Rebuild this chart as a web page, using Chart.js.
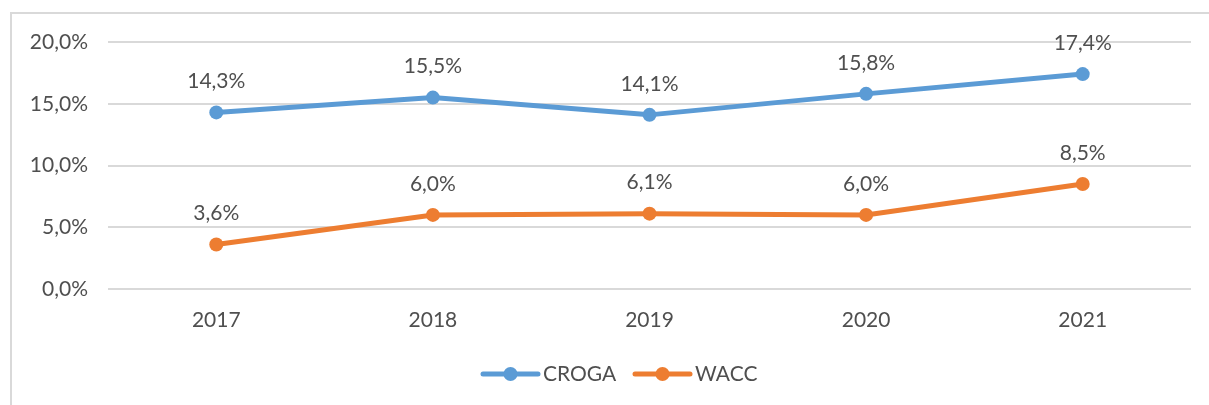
<!DOCTYPE html>
<html>
<head>
<meta charset="utf-8">
<script src="https://cdn.jsdelivr.net/npm/chart.js@4/dist/chart.umd.min.js"></script>
<style>
  html, body { margin: 0; padding: 0; background: #fff; }
  #wrap { position: relative; width: 1209px; height: 405px; }
  #frame { position: absolute; left: 10px; top: 12px; right: -4px; bottom: -4px;
           border-left: 2px solid #d9d9d9; border-top: 2px solid #d9d9d9; }
  canvas { position: absolute; left: 0; top: 0; }
</style>
</head>
<body>
<div id="wrap">
  <div id="frame"></div>
  <canvas id="chart" width="1209" height="405"></canvas>
</div>
<script>
const years = ["2017", "2018", "2019", "2020", "2021"];
const croga = [14.3, 15.5, 14.1, 15.8, 17.4];
const wacc = [3.6, 6.0, 6.1, 6.0, 8.5];
const yTicks = [0, 5, 10, 15, 20];

const FONT = "Lato, 'Open Sans', sans-serif";
const TEXT = "#4f4f4f";
const BLUE = "#5b9bd5";
const ORANGE = "#ed7d31";

const fmt = (v, d) => v.toFixed(d).replace(".", ",") + "%";

// value labels above each point
const valueLabels = {
  id: "valueLabels",
  afterDatasetsDraw(chart) {
    const ctx = chart.ctx;
    ctx.save();
    ctx.font = "21px " + FONT;
    ctx.fillStyle = TEXT;
    ctx.textAlign = "center";
    ctx.textBaseline = "middle";
    chart.data.datasets.forEach((ds, i) => {
      chart.getDatasetMeta(i).data.forEach((pt, j) => {
        ctx.fillText(fmt(ds.data[j], 1), pt.x, pt.y - 31);
      });
    });
    ctx.restore();
  }
};

// legend at the bottom: line with marker, then the name
const bottomLegend = {
  id: "bottomLegend",
  afterDraw(chart) {
    const ctx = chart.ctx;
    const items = [
      { label: "CROGA", color: BLUE, x: 483 },
      { label: "WACC", color: ORANGE, x: 635 }
    ];
    const y = 374;
    ctx.save();
    ctx.font = "21px " + FONT;
    ctx.textBaseline = "middle";
    items.forEach(it => {
      ctx.strokeStyle = it.color;
      ctx.lineWidth = 5;
      ctx.lineCap = "round";
      ctx.beginPath();
      ctx.moveTo(it.x, y);
      ctx.lineTo(it.x + 55, y);
      ctx.stroke();
      ctx.fillStyle = it.color;
      ctx.beginPath();
      ctx.arc(it.x + 27.5, y, 7, 0, Math.PI * 2);
      ctx.fill();
      ctx.fillStyle = TEXT;
      ctx.fillText(it.label, it.x + 60, y);
    });
    ctx.restore();
  }
};

new Chart(document.getElementById("chart"), {
  type: "line",
  data: {
    labels: years,
    datasets: [
      { label: "CROGA", data: croga, borderColor: BLUE, backgroundColor: BLUE,
        borderWidth: 5, pointRadius: 7, pointBackgroundColor: BLUE, pointBorderWidth: 0 },
      { label: "WACC", data: wacc, borderColor: ORANGE, backgroundColor: ORANGE,
        borderWidth: 5, pointRadius: 7, pointBackgroundColor: ORANGE, pointBorderWidth: 0 }
    ]
  },
  options: {
    responsive: false,
    animation: false,
    layout: { padding: { left: 0, top: 42, right: 18, bottom: 0 } },
    plugins: { legend: { display: false }, tooltip: { enabled: false } },
    scales: {
      x: {
        offset: true,
        grid: { display: false, drawTicks: false },
        border: { display: false },
        ticks: { color: TEXT, font: { size: 21, family: FONT }, padding: 19 },
        afterFit(s) { s.height = 116; }
      },
      y: {
        min: 0,
        max: 20,
        afterBuildTicks(s) { s.ticks = yTicks.map(v => ({ value: v })); },
        grid: { color: "#d9d9d9", lineWidth: 2, drawTicks: false },
        border: { display: false },
        ticks: { color: TEXT, font: { size: 21, family: FONT }, padding: 20,
                 callback: v => fmt(v, 1) },
        afterFit(s) { s.width = 108; }
      }
    }
  },
  plugins: [valueLabels, bottomLegend]
});
</script>
</body>
</html>
